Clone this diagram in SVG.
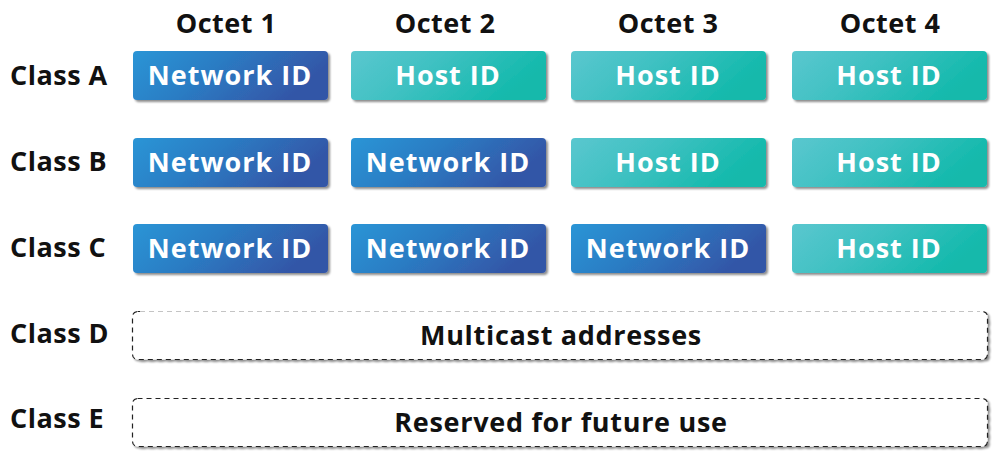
<svg xmlns="http://www.w3.org/2000/svg" width="1000" height="461" viewBox="0 0 1000 461">
<defs>
<linearGradient id="gNet" x1="0" y1="0" x2="1" y2="0.3">
<stop offset="0" stop-color="#2a95d6"/>
<stop offset="0.45" stop-color="#2b7dc4"/>
<stop offset="1" stop-color="#3356a7"/>
</linearGradient>
<linearGradient id="gHost" x1="0" y1="0" x2="1" y2="0.3">
<stop offset="0" stop-color="#5ac7cf"/>
<stop offset="0.45" stop-color="#3fc1c2"/>
<stop offset="1" stop-color="#12b9ab"/>
</linearGradient>
<filter id="sh" x="-5%" y="-10%" width="115%" height="130%">
<feGaussianBlur in="SourceAlpha" stdDeviation="1"/>
<feOffset dx="2" dy="2" result="b"/>
<feComponentTransfer><feFuncA type="linear" slope="0.45"/></feComponentTransfer>
<feMerge><feMergeNode/><feMergeNode in="SourceGraphic"/></feMerge>
</filter>
</defs>
<style>
text{font-family:"Open Sans","Noto Sans","Liberation Sans",sans-serif;font-weight:700}
.hd{font-size:27px;fill:#111;text-anchor:middle;letter-spacing:0.5px}
.cl{font-size:27px;fill:#111;letter-spacing:0.5px}
.bx{font-size:27px;fill:#fff;text-anchor:middle;letter-spacing:1px}
.net{fill:url(#gNet);filter:url(#sh)}
.host{fill:url(#gHost);filter:url(#sh)}
.dash{fill:#fff;stroke:#222;stroke-width:1.2;stroke-dasharray:5 4;filter:url(#sh)}
.lt{font-size:27px;fill:#111;text-anchor:middle;letter-spacing:0.7px}
</style>
<g id="headers">
<text class="hd" x="226" y="33">Octet 1</text>
<text class="hd" x="445" y="33">Octet 2</text>
<text class="hd" x="668" y="33">Octet 3</text>
<text class="hd" x="890" y="33">Octet 4</text>
</g>
<g id="classlabels">
<text class="cl" x="10" y="85">Class A</text>
<text class="cl" x="10" y="171">Class B</text>
<text class="cl" x="10" y="257">Class C</text>
<text class="cl" x="10" y="343">Class D</text>
<text class="cl" x="10" y="428">Class E</text>
</g>
<g id="classA">
<g id="a1"><rect class="net" x="133" y="51" width="195" height="49" rx="4"/><text class="bx" x="230" y="84.5">Network ID</text></g>
<g id="a2"><rect class="host" x="351" y="51" width="195" height="49" rx="4"/><text class="bx" x="448" y="84.5">Host ID</text></g>
<g id="a3"><rect class="host" x="571" y="51" width="195" height="49" rx="4"/><text class="bx" x="668" y="84.5">Host ID</text></g>
<g id="a4"><rect class="host" x="792" y="51" width="195" height="49" rx="4"/><text class="bx" x="889" y="84.5">Host ID</text></g>
</g>
<g id="classB">
<g id="b1"><rect class="net" x="133" y="138" width="195" height="49" rx="4"/><text class="bx" x="230" y="171.5">Network ID</text></g>
<g id="b2"><rect class="net" x="351" y="138" width="195" height="49" rx="4"/><text class="bx" x="448" y="171.5">Network ID</text></g>
<g id="b3"><rect class="host" x="571" y="138" width="195" height="49" rx="4"/><text class="bx" x="668" y="171.5">Host ID</text></g>
<g id="b4"><rect class="host" x="792" y="138" width="195" height="49" rx="4"/><text class="bx" x="889" y="171.5">Host ID</text></g>
</g>
<g id="classC">
<g id="c1"><rect class="net" x="133" y="224" width="195" height="49" rx="4"/><text class="bx" x="230" y="257.5">Network ID</text></g>
<g id="c2"><rect class="net" x="351" y="224" width="195" height="49" rx="4"/><text class="bx" x="448" y="257.5">Network ID</text></g>
<g id="c3"><rect class="net" x="571" y="224" width="195" height="49" rx="4"/><text class="bx" x="668" y="257.5">Network ID</text></g>
<g id="c4"><rect class="host" x="792" y="224" width="195" height="49" rx="4"/><text class="bx" x="889" y="257.5">Host ID</text></g>
</g>
<g id="classD">
<rect class="dash" x="132.5" y="311.5" width="855" height="48" rx="5"/>
<line x1="140" y1="311.5" x2="980" y2="311.5" stroke="#fff" stroke-width="2"/>
<line x1="140" y1="311.5" x2="980" y2="311.5" stroke="#c4c4c4" stroke-width="1.2" stroke-dasharray="5 4"/>
<text class="lt" x="561" y="345">Multicast addresses</text>
</g>
<g id="classE">
<rect class="dash" x="132.5" y="398.5" width="855" height="48" rx="5"/>
<text class="lt" x="561" y="432">Reserved for future use</text>
</g>
</svg>
